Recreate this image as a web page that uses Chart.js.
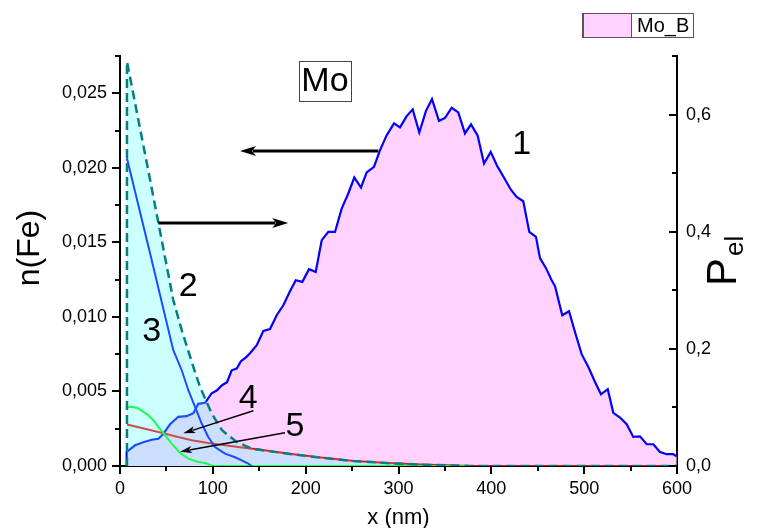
<!DOCTYPE html>
<html>
<head>
<meta charset="utf-8">
<title>Mo_B</title>
<script src="https://cdn.jsdelivr.net/npm/chart.js@4"></script>
<style>
  html, body { margin: 0; padding: 0; background: #fff; }
  #wrap { width: 760px; height: 528px; }
</style>
</head>
<body>
<div id="wrap"><canvas id="chart" width="760" height="528"></canvas></div>
<script>
// curve 1 (Mo_B), left axis n(Fe)
const c1X = [7.2, 7.2, 16.2, 25.1, 34.1, 41.3, 46.3, 53.9, 62.8, 71.8,
  79.0, 84.3, 91.6, 98.8, 104.5, 109.9, 115.3, 120.3, 125.7, 130.3,
  135.7, 140.0, 147.3, 154.4, 161.6, 168.8, 175.9, 182.6, 189.3, 196.4,
  203.6, 210.8, 217.3, 224.4, 231.6, 238.8, 245.9, 252.4, 259.6, 265.7,
  273.6, 280.1, 287.3, 295.2, 301.6, 308.8, 315.3, 322.4, 329.6, 336.1,
  343.6, 350.1, 357.3, 364.4, 371.6, 378.1, 385.3, 392.1, 399.3, 406.4,
  413.6, 420.9, 427.3, 434.4, 440.9, 448.1, 452.4, 458.9, 465.0, 468.6,
  476.4, 483.7, 490.1, 497.3, 504.5, 511.7, 518.1, 525.4, 531.4, 538.6,
  545.8, 552.9, 560.1, 567.4, 574.5, 581.7, 588.9, 596.0, 599.7];
const c1Y = [0, 0.00094, 0.00139, 0.00159, 0.00176, 0.00183, 0.00213, 0.00280, 0.00330, 0.00334,
  0.00354, 0.00417, 0.00424, 0.00488, 0.00508, 0.00542, 0.00562, 0.00642, 0.00654, 0.00703,
  0.00729, 0.00756, 0.00810, 0.00906, 0.00919, 0.01011, 0.01078, 0.01166, 0.01246, 0.01235,
  0.01320, 0.01302, 0.01515, 0.01570, 0.01570, 0.01727, 0.01828, 0.01935, 0.01868, 0.01969,
  0.02007, 0.02119, 0.02219, 0.02298, 0.02271, 0.02347, 0.02392, 0.02237, 0.02382, 0.02461,
  0.02315, 0.02335, 0.02403, 0.02372, 0.02231, 0.02291, 0.02215, 0.02029, 0.02107, 0.02011,
  0.01935, 0.01855, 0.01805, 0.01776, 0.01570, 0.01537, 0.01394, 0.01327, 0.01246, 0.01206,
  0.01011, 0.01038, 0.00899, 0.00750, 0.00664, 0.00564, 0.00481, 0.00515, 0.00356, 0.00325,
  0.00280, 0.00195, 0.00199, 0.00146, 0.00146, 0.00094, 0.00079, 0.00079, 0.00065];

// curves 2-5, right axis P_el
const c2X = [7.5, 7.5, 32.3, 57.4, 66.5, 79.0, 86.2, 98.8, 109.9, 125.7, 143.6, 149.0, 179.6, 215.4, 251.3, 287.3, 323.2, 359.0, 377.0, 600];
const c2Y = [0, 0.6906, 0.4896, 0.2833, 0.2320, 0.1692, 0.1350, 0.0896, 0.0610, 0.0410, 0.0285, 0.0280, 0.0212, 0.0144, 0.0085, 0.0051, 0.0024, 0.0007, 0, 0];

const c3X = [7.5, 32.3, 57.4, 66.5, 73.6, 80.8, 88.0, 95.1, 102.3, 113.1, 123.9, 131.1, 138.2, 141.9];
const c3Y = [0.5255, 0.3638, 0.1977, 0.1635, 0.1294, 0.1009, 0.0725, 0.0496, 0.0325, 0.0212, 0.0149, 0.0097, 0.0041, 0];

const c4X = [7.5, 23.4, 41.3, 59.2, 77.2, 95.1, 113.1, 131.1, 149.0, 179.6, 215.4, 251.3, 287.3, 323.2, 359.0, 377.0, 600];
const c4Y = [0.0710, 0.0650, 0.0581, 0.0508, 0.0439, 0.0393, 0.0354, 0.0315, 0.0280, 0.0212, 0.0144, 0.0085, 0.0051, 0.0024, 0.0007, 0, 0];

const c5X = [7.5, 12.9, 19.4, 25.1, 30.5, 35.9, 41.3, 48.5, 55.7, 64.6, 73.6, 84.3, 91.6, 100.0, 377.0];
const c5Y = [0.1003, 0.1012, 0.0986, 0.0923, 0.0867, 0.0781, 0.0667, 0.0525, 0.0383, 0.0222, 0.0126, 0.0068, 0.0051, 0, 0];

// axis ticks
const xTicks = [0, 100, 200, 300, 400, 500, 600];
const nFeTicks = [0, 0.005, 0.010, 0.015, 0.020, 0.025];
const pelTicks = [0, 0.2, 0.4, 0.6];

// curve numbers (x in nm, y in n(Fe) units)
const noteText = ['1', '2', '3', '4', '5'];
const noteX = [432.7, 73.6, 34.1, 138.2, 188.5];
const noteY = [0.02153, 0.01203, 0.00901, 0.00454, 0.00264];

const FONT = "'Liberation Sans', Arial, sans-serif";
const pts = (xs, ys) => xs.map((v, i) => ({ x: v, y: ys[i] }));
const comma = (v, d) => v.toFixed(d).replace('.', ',');
const minorOf = (ticks, max) => {
  const step = ticks[1] - ticks[0];
  const out = [];
  for (let i = 0; i < ticks.length; i++) {
    const m = ticks[i] + step / 2;
    if (m <= max + 1e-9) out.push(m);
  }
  return out;
};

function arrow(ctx, x0, y0, x1, y1, lw, hl, hw) {
  const a = Math.atan2(y1 - y0, x1 - x0);
  ctx.save();
  ctx.strokeStyle = '#000';
  ctx.fillStyle = '#000';
  ctx.lineWidth = lw;
  ctx.beginPath();
  ctx.moveTo(x0, y0);
  ctx.lineTo(x1 - Math.cos(a) * hl * 0.8, y1 - Math.sin(a) * hl * 0.8);
  ctx.stroke();
  ctx.translate(x1, y1);
  ctx.rotate(a);
  ctx.beginPath();
  ctx.moveTo(0, 0);
  ctx.lineTo(-hl, -hw / 2);
  ctx.lineTo(-hl * 0.75, 0);
  ctx.lineTo(-hl, hw / 2);
  ctx.closePath();
  ctx.fill();
  ctx.restore();
}

const decor = {
  id: 'decor',
  afterDraw(chart) {
    const { ctx, chartArea: ca } = chart;
    const { x, y, y2 } = chart.scales;

    // major / minor ticks
    ctx.save();
    ctx.strokeStyle = '#000';
    ctx.lineWidth = 2;
    ctx.beginPath();
    xTicks.forEach(v => { const p = Math.round(x.getPixelForValue(v)); ctx.moveTo(p, ca.bottom); ctx.lineTo(p, ca.bottom + 8); });
    minorOf(xTicks, 600).forEach(v => { const p = Math.round(x.getPixelForValue(v)); ctx.moveTo(p, ca.bottom); ctx.lineTo(p, ca.bottom + 5); });
    nFeTicks.forEach(v => { const p = Math.round(y.getPixelForValue(v)); ctx.moveTo(ca.left, p); ctx.lineTo(ca.left - 8, p); });
    minorOf(nFeTicks, 0.0275).forEach(v => { const p = Math.round(y.getPixelForValue(v)); ctx.moveTo(ca.left, p); ctx.lineTo(ca.left - 5, p); });
    pelTicks.forEach(v => { const p = Math.round(y2.getPixelForValue(v)); ctx.moveTo(ca.right, p); ctx.lineTo(ca.right - 8, p); });
    minorOf(pelTicks, 0.7).forEach(v => { const p = Math.round(y2.getPixelForValue(v)); ctx.moveTo(ca.right, p); ctx.lineTo(ca.right - 5, p); });
    ctx.stroke();
    ctx.restore();

    // axis titles
    ctx.save();
    ctx.fillStyle = '#000';
    ctx.textAlign = 'center';
    ctx.textBaseline = 'middle';
    ctx.font = '22px ' + FONT;
    ctx.fillText('x (nm)', (ca.left + ca.right) / 2, 518);
    ctx.save();
    ctx.translate(30, 248);
    ctx.rotate(-Math.PI / 2);
    ctx.font = '32px ' + FONT;
    ctx.fillText('n(Fe)', 0, 0);
    ctx.restore();
    ctx.save();
    ctx.translate(724, 272);
    ctx.rotate(-Math.PI / 2);
    ctx.textAlign = 'left';
    ctx.font = '42px ' + FONT;
    ctx.fillText('P', -14, 0);
    ctx.font = '26px ' + FONT;
    ctx.fillText('el', 16, 12);
    ctx.restore();
    ctx.restore();

    // curve numbers
    ctx.save();
    ctx.fillStyle = '#000';
    ctx.textAlign = 'center';
    ctx.textBaseline = 'middle';
    ctx.font = '34px ' + FONT;
    noteText.forEach((t, i) => ctx.fillText(t, x.getPixelForValue(noteX[i]), y.getPixelForValue(noteY[i])));

    // "Mo" box
    const mx = x.getPixelForValue(220.8), my = y.getPixelForValue(0.02582);
    ctx.fillText('Mo', mx, my + 1);
    ctx.strokeStyle = '#444';
    ctx.lineWidth = 1;
    ctx.strokeRect(Math.round(mx - 26) + 0.5, Math.round(my - 20) + 0.5, 52, 40);
    ctx.restore();

    // arrows
    const P = (vx, vy) => [x.getPixelForValue(vx), y.getPixelForValue(vy)];
    let a, b;
    a = P(278.2, 0.02113); b = P(129.3, 0.02113);
    arrow(ctx, a[0], a[1], b[0], b[1], 3, 16, 10);
    a = P(41.3, 0.0163); b = P(181.2, 0.0163);
    arrow(ctx, a[0], a[1], b[0], b[1], 3, 16, 10);
    a = P(143.6, 0.00371); b = P(68.2, 0.00219);
    arrow(ctx, a[0], a[1], b[0], b[1], 1.5, 12, 7);
    a = P(177.7, 0.00223); b = P(64.6, 0.00096);
    arrow(ctx, a[0], a[1], b[0], b[1], 1.5, 12, 7);

    // legend
    ctx.save();
    ctx.fillStyle = '#FFD2FF';
    ctx.fillRect(583, 14, 48, 23);
    ctx.strokeStyle = '#555';
    ctx.lineWidth = 1;
    ctx.strokeRect(583.5, 13.5, 48, 24);
    ctx.strokeRect(582.5, 13.5, 111, 24);
    ctx.fillStyle = '#000';
    ctx.textAlign = 'left';
    ctx.textBaseline = 'middle';
    ctx.font = '20px ' + FONT;
    ctx.fillText('Mo_B', 637, 26);
    ctx.restore();
  }
};

const lineBase = { pointRadius: 0, tension: 0, fill: false };

new Chart(document.getElementById('chart'), {
  type: 'line',
  data: {
    datasets: [
      Object.assign({}, lineBase, { label: '2', data: pts(c2X, c2Y), yAxisID: 'y2', borderColor: '#008080', borderWidth: 2.5, borderDash: [9, 5], order: 1 }),
      Object.assign({}, lineBase, { label: '2 fill', data: pts(c2X, c2Y), yAxisID: 'y2', borderColor: 'rgba(0,0,0,0)', borderWidth: 0, backgroundColor: 'rgba(85,255,255,0.3)', fill: 'origin', order: 2 }),
      Object.assign({}, lineBase, { label: '3', data: pts(c3X, c3Y), yAxisID: 'y2', borderColor: '#0000FF', borderWidth: 2, order: 3 }),
      Object.assign({}, lineBase, { label: '5', data: pts(c5X, c5Y), yAxisID: 'y2', borderColor: '#00FF00', borderWidth: 2, order: 4 }),
      Object.assign({}, lineBase, { label: '4', data: pts(c4X, c4Y), yAxisID: 'y2', borderColor: '#FF0000', borderWidth: 2, order: 5 }),
      Object.assign({}, lineBase, { label: 'Mo_B', data: pts(c1X, c1Y), yAxisID: 'y', borderColor: '#0000FF', borderWidth: 2.2, backgroundColor: '#FFD2FF', fill: 'origin', order: 10 })
    ]
  },
  options: {
    responsive: false,
    devicePixelRatio: 1,
    animation: false,
    layout: { padding: { top: 56, left: 0, right: 0, bottom: 0 } },
    plugins: { legend: { display: false }, tooltip: { enabled: false } },
    scales: {
      x: {
        type: 'linear', min: 0, max: 600,
        afterBuildTicks: s => { s.ticks = xTicks.map(v => ({ value: v })); },
        afterFit: s => { s.height = 62; },
        grid: { display: false, drawTicks: false },
        border: { display: true, color: '#000', width: 2 },
        ticks: { color: '#000', font: { family: FONT, size: 18 }, padding: 12, maxRotation: 0, autoSkip: false, callback: v => String(v) }
      },
      y: {
        type: 'linear', position: 'left', min: 0, max: 0.0275,
        afterBuildTicks: s => { s.ticks = nFeTicks.map(v => ({ value: v })); },
        afterFit: s => { s.width = 120; },
        grid: { display: false, drawTicks: false },
        border: { display: true, color: '#000', width: 2 },
        ticks: { color: '#000', font: { family: FONT, size: 18 }, padding: 13, autoSkip: false, callback: v => comma(v, 3) }
      },
      y2: {
        type: 'linear', position: 'right', min: 0, max: 0.7,
        afterBuildTicks: s => { s.ticks = pelTicks.map(v => ({ value: v })); },
        afterFit: s => { s.width = 83; },
        grid: { display: false, drawTicks: false },
        border: { display: true, color: '#000', width: 2 },
        ticks: { color: '#000', font: { family: FONT, size: 18 }, padding: 9, autoSkip: false, callback: v => comma(v, 1) }
      }
    }
  },
  plugins: [decor]
});
</script>
</body>
</html>
